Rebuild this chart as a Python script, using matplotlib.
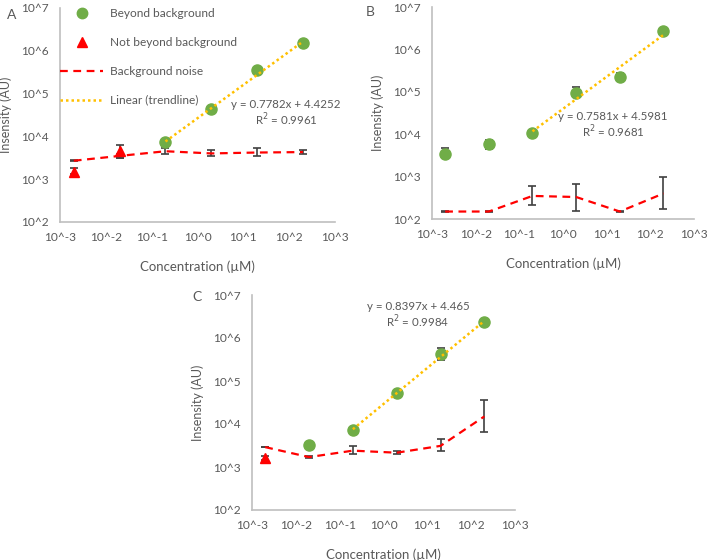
import numpy as np
import matplotlib
matplotlib.use("Agg")
import matplotlib.pyplot as plt
from matplotlib.lines import Line2D
from matplotlib.ticker import FixedLocator, NullLocator

plt.rcParams['font.family'] = ['Lato', 'DejaVu Sans']

# ---------------- data ----------------
conc = [0.002, 0.02, 0.2, 2, 20, 200]

# Panel A
A_beyond_x = [0.2, 2, 20, 200]
A_beyond_y = [7.5e3, 4.3e4, 3.5e5, 1.5e6]
A_not_x = [0.002, 0.02]
A_not_y = [1.5e3, 4.5e3]
A_not_lo = [1.3e3, 3.2e3]
A_not_hi = [1.8e3, 6.3e3]
A_bg_y = [2.7e3, 3.5e3, 4.5e3, 4.0e3, 4.2e3, 4.3e3]
A_bg_lo = [2.65e3, 3.2e3, 3.9e3, 3.4e3, 3.4e3, 3.9e3]
A_bg_hi = [2.75e3, 3.8e3, 5.3e3, 4.8e3, 5.3e3, 4.8e3]
A_fit = (0.7782, 4.4252, 0.9961)

# Panel B
B_beyond_x = [0.002, 0.02, 0.2, 2, 20, 200]
B_beyond_y = [3.5e3, 5.8e3, 1.05e4, 9.5e4, 2.2e5, 2.7e6]
B_beyond_lo = [2.7e3, 4.5e3, 1.0e4, 7.5e4, 1.8e5, 2.6e6]
B_beyond_hi = [4.6e3, 7.3e3, 1.1e4, 1.3e5, 2.8e5, 2.8e6]
B_bg_y = [150, 150, 350, 330, 150, 400]
B_bg_lo = [148, 148, 210, 155, 148, 170]
B_bg_hi = [152, 152, 600, 670, 152, 960]
B_fit = (0.7581, 4.5981, 0.9681)

# Panel C
C_beyond_x = [0.02, 0.2, 2, 20, 200]
C_beyond_y = [3.2e3, 7.3e3, 5.2e4, 4.2e5, 2.3e6]
C_beyond_lo = [3.1e3, 7.1e3, 5.0e4, 3.0e5, 2.25e6]
C_beyond_hi = [3.3e3, 7.5e3, 5.4e4, 6.0e5, 2.35e6]
C_not_x = [0.002]
C_not_y = [1.6e3]
C_not_lo = [1.45e3]
C_not_hi = [1.8e3]
C_bg_y = [2.9e3, 1.7e3, 2.4e3, 2.15e3, 3.1e3, 1.5e4]
C_bg_lo = [2.85e3, 1.6e3, 2.0e3, 2.05e3, 2.3e3, 6.6e3]
C_bg_hi = [2.95e3, 1.85e3, 3.0e3, 2.3e3, 4.5e3, 3.6e4]
C_fit = (0.8397, 4.465, 0.9984)

fit_x = [0.2, 200]

x_ticks = [1e-3, 1e-2, 1e-1, 1e0, 1e1, 1e2, 1e3]
x_labels = ['10^-3', '10^-2', '10^-1', '10^0', '10^1', '10^2', '10^3']
y_ticks = [1e2, 1e3, 1e4, 1e5, 1e6, 1e7]
y_labels = ['10^2', '10^3', '10^4', '10^5', '10^6', '10^7']

# ---------------- style ----------------
GREEN = '#70AD47'
RED = '#FF0000'
GOLD = '#FFC000'
ERR = '#404040'
TXT = '#595959'
AXC = '#BFBFBF'

fig = plt.figure(figsize=(7.09, 5.60), dpi=100)


def setup(ax):
    ax.set_xscale('log')
    ax.set_yscale('log')
    ax.set_xlim(1e-3, 1e3)
    ax.set_ylim(1e2, 1e7)
    ax.xaxis.set_major_locator(FixedLocator(x_ticks))
    ax.xaxis.set_minor_locator(NullLocator())
    ax.yaxis.set_major_locator(FixedLocator(y_ticks))
    ax.yaxis.set_minor_locator(NullLocator())
    ax.set_xticklabels(x_labels)
    ax.set_yticklabels(y_labels)
    ax.tick_params(length=0, labelsize=8.6, colors=TXT)
    ax.tick_params(axis='x', pad=7)
    ax.tick_params(axis='y', pad=8)
    for s in ['top', 'right']:
        ax.spines[s].set_visible(False)
    for s in ['left', 'bottom']:
        ax.spines[s].set_color(AXC)
        ax.spines[s].set_linewidth(1.2)
    ax.set_xlabel('Concentration (µM)', fontsize=9.5, color=TXT, labelpad=13)
    ax.set_ylabel('Insensity (AU)', fontsize=9, color=TXT, labelpad=7)
    ax.patch.set_alpha(0)


def err(lo, y, hi):
    return [np.array(y) - np.array(lo), np.array(hi) - np.array(y)]


def bg(ax, y, lo, hi):
    ax.errorbar(conc, y, yerr=err(lo, y, hi), fmt='none', ecolor=ERR,
                elinewidth=1.2, capsize=3, capthick=1.2, zorder=2)
    ax.plot(conc, y, color=RED, ls=(0, (3.5, 2.5)), lw=1.6, zorder=3)


def trend(ax, fit):
    m, b, r2 = fit
    lx = np.log10(fit_x)
    ty = 10 ** (m * lx + b)
    ax.plot(fit_x, ty, color=GOLD, ls=(0, (1, 1.2)), lw=1.8, zorder=5)


def green(ax, x, y, lo=None, hi=None):
    if lo is not None:
        ax.errorbar(x, y, yerr=err(lo, y, hi), fmt='none', ecolor=ERR,
                    elinewidth=1.2, capsize=3, capthick=1.2, zorder=3)
    ax.plot(x, y, 'o', color=GREEN, ms=8, mec=GREEN, zorder=4)


def tri(ax, x, y, lo, hi):
    ax.errorbar(x, y, yerr=err(lo, y, hi), fmt='none', ecolor=ERR,
                elinewidth=1.2, capsize=3, capthick=1.2, zorder=3)
    ax.plot(x, y, '^', color=RED, ms=7.5, mec=RED, zorder=4)


def eq(ax, fit, xf, yf):
    m, b, r2 = fit
    ax.text(xf, yf, f'y = {m}x + {b}', transform=fig.transFigure, ha='center',
            va='center', fontsize=8.3, color=TXT)
    ax.text(xf, yf - 15 / 560, f'R$^2$ = {r2}', transform=fig.transFigure,
            ha='center', va='center', fontsize=8.3, color=TXT)


# Panel A
axA = fig.add_axes([60 / 709, 1 - 222 / 560, 275 / 709, 214 / 560])
setup(axA)
bg(axA, A_bg_y, A_bg_lo, A_bg_hi)
trend(axA, A_fit)
tri(axA, A_not_x, A_not_y, A_not_lo, A_not_hi)
green(axA, A_beyond_x, A_beyond_y)
eq(axA, A_fit, 286 / 709, 1 - 105 / 560)
handles = [
    Line2D([], [], marker='o', color=GREEN, ls='none', ms=7.5),
    Line2D([], [], marker='^', color=RED, ls='none', ms=7),
    Line2D([], [], color=RED, ls=(0, (3.5, 2.5)), lw=1.6),
    Line2D([], [], color=GOLD, ls=(0, (1, 1.2)), lw=1.8),
]
labels = ['Beyond background', 'Not beyond background', 'Background noise',
          'Linear (trendline)']
leg = axA.legend(handles, labels, loc='upper left', bbox_to_anchor=(0.0, 1.0),
                 frameon=False, fontsize=8.6, labelcolor=TXT, handlelength=3.6,
                 handletextpad=0.6, labelspacing=1.5, borderpad=0.0,
                 borderaxespad=0.0)
fig.text(12 / 709, 1 - 15 / 560, 'A', fontsize=10, color=TXT, ha='center', va='center')

# Panel B
axB = fig.add_axes([432 / 709, 1 - 219 / 560, 262 / 709, 212 / 560])
setup(axB)
bg(axB, B_bg_y, B_bg_lo, B_bg_hi)
trend(axB, B_fit)
green(axB, B_beyond_x, B_beyond_y, B_beyond_lo, B_beyond_hi)
eq(axB, B_fit, 613 / 709, 1 - 117 / 560)
fig.text(370 / 709, 1 - 12 / 560, 'B', fontsize=10, color=TXT, ha='center', va='center')

# Panel C
axC = fig.add_axes([252 / 709, 1 - 510 / 560, 263 / 709, 215 / 560])
setup(axC)
bg(axC, C_bg_y, C_bg_lo, C_bg_hi)
trend(axC, C_fit)
tri(axC, C_not_x, C_not_y, C_not_lo, C_not_hi)
green(axC, C_beyond_x, C_beyond_y, C_beyond_lo, C_beyond_hi)
eq(axC, C_fit, 418 / 709, 1 - 307 / 560)
fig.text(197 / 709, 1 - 297 / 560, 'C', fontsize=10, color=TXT, ha='center', va='center')

fig.savefig('out.png', dpi=100)
